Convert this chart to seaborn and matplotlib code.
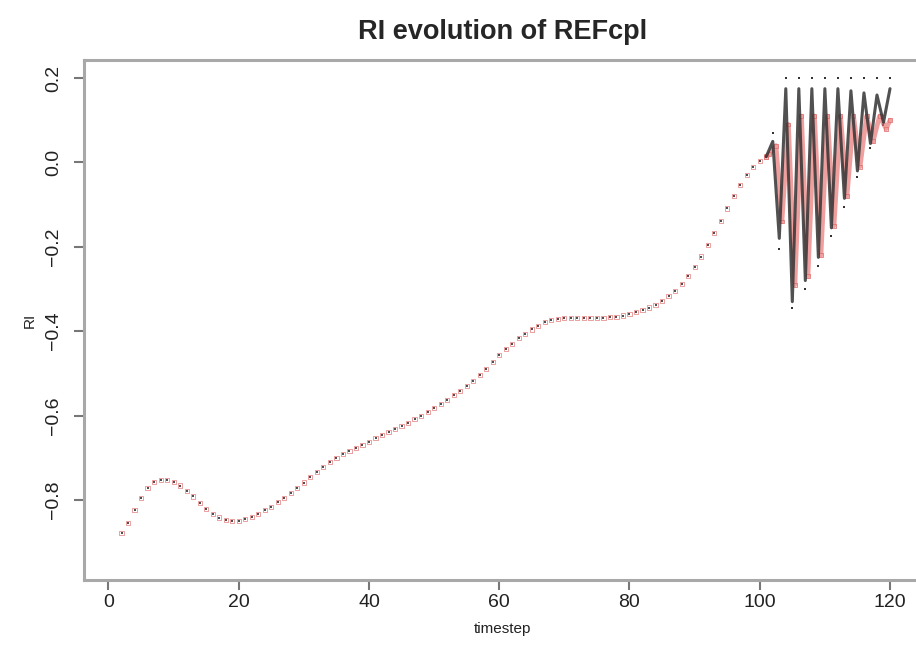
import numpy as np
import pandas as pd
import matplotlib
matplotlib.use("Agg")
import matplotlib.pyplot as plt
import seaborn as sns

# ---------------- data ----------------
main_t = list(range(2, 102))
main_ri = [-0.878, -0.855, -0.825, -0.795, -0.772, -0.758, -0.752, -0.752, -0.757, -0.766,
           -0.778, -0.792, -0.807, -0.821, -0.833, -0.842, -0.848, -0.851, -0.850, -0.846,
           -0.840, -0.833, -0.825, -0.816, -0.806, -0.795, -0.784, -0.772, -0.759, -0.746,
           -0.734, -0.722, -0.711, -0.701, -0.692, -0.684, -0.677, -0.670, -0.662, -0.654,
           -0.646, -0.639, -0.632, -0.625, -0.617, -0.609, -0.601, -0.592, -0.583, -0.573,
           -0.563, -0.552, -0.541, -0.530, -0.518, -0.504, -0.489, -0.473, -0.457, -0.443,
           -0.430, -0.417, -0.406, -0.396, -0.387, -0.379, -0.374, -0.371, -0.369, -0.368,
           -0.368, -0.368, -0.368, -0.368, -0.368, -0.367, -0.366, -0.363, -0.359, -0.355,
           -0.350, -0.344, -0.337, -0.328, -0.317, -0.304, -0.289, -0.270, -0.248, -0.223,
           -0.196, -0.167, -0.138, -0.109, -0.080, -0.053, -0.030, -0.010, 0.004, 0.014]

osc_t = list(range(102, 121))
osc_black_pts = [0.07, -0.205, 0.2, -0.345, 0.2, -0.30, 0.2, -0.245, 0.2, -0.175,
                 0.2, -0.105, 0.2, -0.035, 0.2, 0.035, 0.2, 0.09, 0.2]

black_line_t = list(range(101, 121))
black_line_ri = [0.014, 0.05, -0.18, 0.175, -0.33, 0.175, -0.28, 0.175, -0.225, 0.175,
                 -0.155, 0.175, -0.085, 0.17, -0.02, 0.165, 0.045, 0.16, 0.095, 0.175]

red_line_t = [101, 101.5, 102.5, 103.4, 104.4, 105.4, 106.4, 107.4, 108.4, 109.4,
              110.4, 111.4, 112.4, 113.4, 114.4, 115.4, 116.4, 117.4, 118.4, 119.4, 120]
red_line_ri = [0.014, 0.02, 0.04, -0.14, 0.09, -0.29, 0.11, -0.27, 0.11, -0.22,
               0.11, -0.15, 0.11, -0.08, 0.11, -0.01, 0.11, 0.05, 0.11, 0.08, 0.10]

x_ticks = [0, 20, 40, 60, 80, 100, 120]
y_ticks = [-0.8, -0.6, -0.4, -0.2, 0.0, 0.2]

# ---------------- plot ----------------
sns.set_style("white")
plt.rcParams['font.family'] = ['Liberation Sans', 'DejaVu Sans']

fig = plt.figure(figsize=(9.16, 6.54), dpi=100)
ax = fig.add_axes([84/916, 1 - 580/654, (921 - 84)/916, (580 - 60)/654])

df_main = pd.DataFrame({"timestep": main_t, "RI": main_ri})
df_bl = pd.DataFrame({"timestep": black_line_t, "RI": black_line_ri})
df_rl = pd.DataFrame({"timestep": red_line_t, "RI": red_line_ri})
df_bp = pd.DataFrame({"timestep": osc_t, "RI": osc_black_pts})

sns.lineplot(data=df_rl, x="timestep", y="RI", ax=ax, color="#e86c6c", lw=3.4,
             alpha=0.65, sort=False, estimator=None)
sns.lineplot(data=df_bl, x="timestep", y="RI", ax=ax, color="#333333", lw=2.2,
             alpha=0.85, sort=False, estimator=None)

sns.scatterplot(data=df_main, x="timestep", y="RI", ax=ax, marker="s", s=9,
                facecolor="none", edgecolor="#e89090", linewidth=0.6)
sns.scatterplot(data=df_main, x="timestep", y="RI", ax=ax, marker="s", s=4,
                color="#505050", linewidth=0)
sns.scatterplot(data=df_rl, x="timestep", y="RI", ax=ax, marker="s", s=8,
                facecolor="none", edgecolor="#e07a7a", linewidth=0.6)
sns.scatterplot(data=df_bp, x="timestep", y="RI", ax=ax, marker="s", s=4,
                color="#333333", linewidth=0)

ax.set_xlim(-3.76, 124.76)
ax.set_ylim(-0.99, 0.243)
ax.set_xticks(x_ticks)
ax.set_xticklabels([str(v) for v in x_ticks])
ax.set_yticks(y_ticks)
ax.set_yticklabels([f"{v:.1f}".replace("-", "\u2212") for v in y_ticks],
                   rotation=90, va="center")

for s in ["left", "bottom", "top", "right"]:
    ax.spines[s].set_color("#a8a8a8")
    ax.spines[s].set_linewidth(2.2)

ax.tick_params(axis="both", direction="out", length=7, width=1.5, color="#777777",
               labelsize=14, labelcolor="#222222", bottom=True, left=True)
ax.tick_params(axis="x", pad=3)
ax.tick_params(axis="y", pad=9)

ax.set_xlabel("timestep", fontsize=11, color="#222222", labelpad=8)
ax.set_ylabel("RI", fontsize=11, color="#222222", labelpad=6)
ax.set_title("RI evolution of REFcpl", fontsize=19.5, fontweight="bold", pad=15)

fig.savefig("out.png", dpi=100)
